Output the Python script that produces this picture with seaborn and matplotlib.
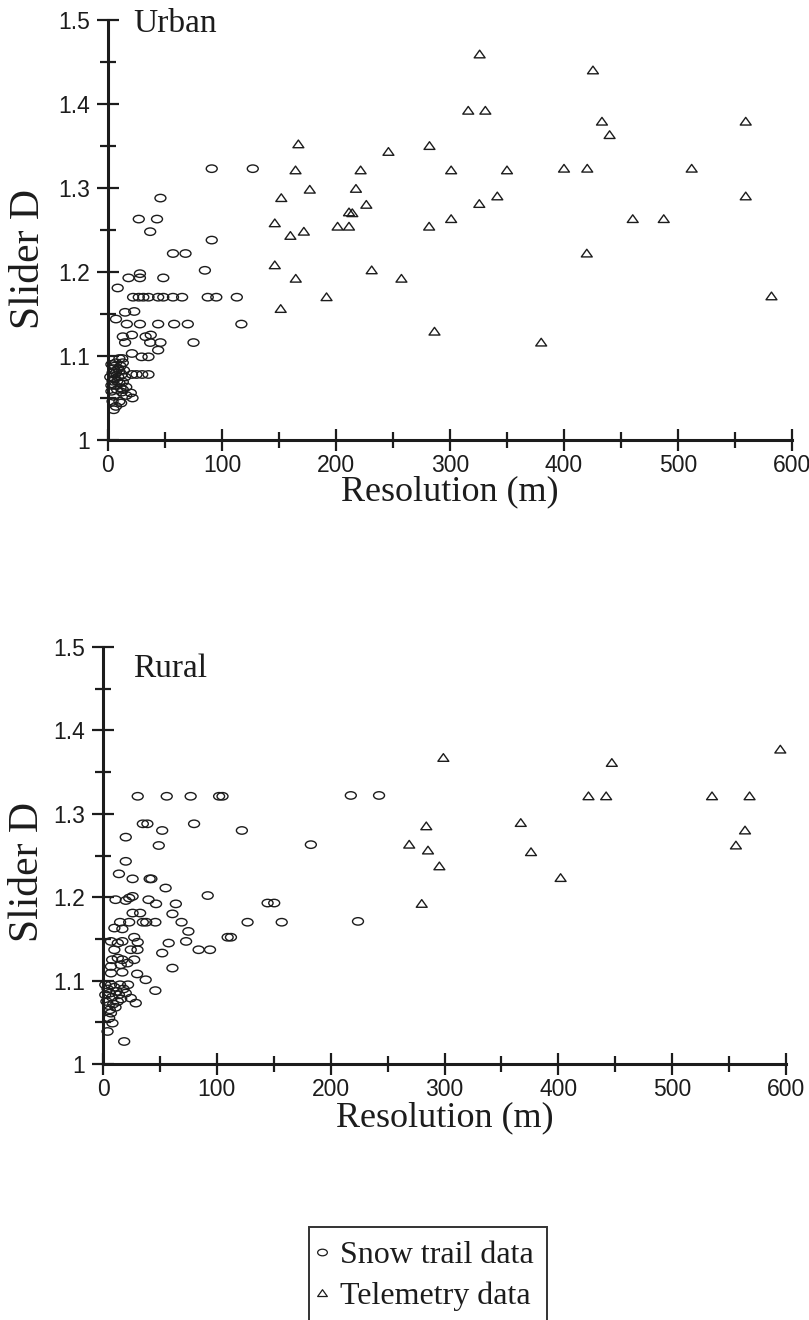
import numpy as np
import pandas as pd
import matplotlib
matplotlib.use("Agg")
import matplotlib.pyplot as plt
from matplotlib.path import Path
from matplotlib.lines import Line2D
from matplotlib.ticker import MultipleLocator, FuncFormatter
import seaborn as sns

# ---------------- data ----------------
urban_snow_x = [91, 127, 46, 27, 43, 37, 91, 57, 68, 85, 8.5, 18, 28, 28, 48.5,
                22, 27, 31, 35.5, 44, 48.5, 57, 65, 87.5, 95, 113,
                15, 23, 7,
                16.5, 28, 44, 58, 70, 117,
                13, 21, 33, 37.5,
                15, 37, 46, 75,
                44, 21, 29.5, 35.5, 10, 12.5,
                21, 25, 30, 35.5,
                21.5, 16, 11.5, 5, 4, 10, 7, 16, 13, 13, 20,
                3, 5, 7, 9, 4, 6, 8, 10, 12, 11, 14, 3, 5, 2, 7, 9, 6, 12, 4, 8,
                10, 13, 15, 3, 6, 11]
urban_snow_y = [1.323, 1.323, 1.288, 1.263, 1.263, 1.248, 1.238, 1.222, 1.222, 1.202, 1.181, 1.193, 1.193, 1.198, 1.193,
                1.170, 1.170, 1.170, 1.170, 1.170, 1.170, 1.170, 1.170, 1.170, 1.170, 1.170,
                1.152, 1.153, 1.144,
                1.138, 1.138, 1.138, 1.138, 1.138, 1.138,
                1.123, 1.125, 1.123, 1.125,
                1.116, 1.116, 1.116, 1.116,
                1.107, 1.103, 1.099, 1.099, 1.097, 1.097,
                1.078, 1.078, 1.078, 1.078,
                1.050, 1.053, 1.044, 1.036, 1.046, 1.046, 1.040, 1.063, 1.069, 1.060, 1.056,
                1.090, 1.085, 1.080, 1.075, 1.070, 1.065, 1.060, 1.068, 1.078, 1.088, 1.083, 1.058, 1.052, 1.075, 1.092, 1.085, 1.073, 1.057, 1.080, 1.070,
                1.082, 1.092, 1.075, 1.065, 1.088, 1.062]

urban_tele_x = [326, 316, 331, 167, 246, 282, 164.5, 221.6, 301, 350, 177, 217.5, 152, 226.6, 341.5,
                325.7, 211.4, 214.3, 146.3, 160, 171.8, 201.4, 211.4, 281.7, 301, 146.3, 164.7, 231.3,
                257.4, 191.7, 151.5, 286.4, 380, 425.4, 433.3, 440, 559.4, 400, 420.4, 512, 559.4,
                460.3, 487.5, 420, 582]
urban_tele_y = [1.459, 1.392, 1.392, 1.352, 1.343, 1.350, 1.321, 1.321, 1.321, 1.321, 1.298, 1.299, 1.288, 1.280, 1.290,
                1.281, 1.271, 1.270, 1.258, 1.243, 1.248, 1.254, 1.254, 1.254, 1.263, 1.208, 1.192, 1.202,
                1.192, 1.170, 1.156, 1.129, 1.116, 1.440, 1.379, 1.363, 1.379, 1.323, 1.323, 1.323, 1.290,
                1.263, 1.263, 1.222, 1.171]

rural_snow_x = [30.5, 56, 77, 102, 105, 217.7, 242.5,
                35, 39, 80, 52, 122, 20, 49, 182.6, 20, 14, 26, 41, 42.5, 55, 92, 11, 20, 23, 26, 40, 46.6, 64,
                144.6, 150.4, 26, 32.6, 61,
                15, 23, 35, 38, 46, 69, 127, 157, 224,
                10, 17, 75, 27.4, 109.5, 112.4, 30.5, 57.7, 73, 52, 84, 94, 10, 24.4, 30.3, 7, 13, 17,
                13, 8, 7, 17, 27.4, 15.6, 21.5, 7, 17, 30, 37.5, 61, 46, 24.4, 28.8, 7, 5.4, 8.3, 4, 18.6,
                2, 4, 6, 8, 10, 12, 14, 16, 3, 5, 9, 11, 13, 18, 20, 2, 7, 15, 22, 6]
rural_snow_y = [1.321, 1.321, 1.321, 1.321, 1.321, 1.322, 1.322,
                1.288, 1.288, 1.288, 1.280, 1.280, 1.272, 1.262, 1.263, 1.243, 1.228, 1.222, 1.222, 1.222, 1.211, 1.202, 1.197, 1.196, 1.199, 1.201, 1.197, 1.192, 1.192,
                1.193, 1.193, 1.181, 1.181, 1.180,
                1.170, 1.170, 1.170, 1.170, 1.170, 1.170, 1.170, 1.170, 1.171,
                1.163, 1.162, 1.159, 1.152, 1.152, 1.152, 1.146, 1.145, 1.147, 1.133, 1.137, 1.137, 1.137, 1.137, 1.137, 1.147, 1.145, 1.147,
                1.127, 1.125, 1.117, 1.125, 1.125, 1.119, 1.121, 1.109, 1.110, 1.108, 1.101, 1.115, 1.088, 1.079, 1.073, 1.061, 1.055, 1.049, 1.039, 1.027,
                1.095, 1.090, 1.085, 1.080, 1.092, 1.087, 1.083, 1.078, 1.075, 1.070, 1.072, 1.068, 1.075, 1.090, 1.085, 1.083, 1.095, 1.095, 1.095, 1.065]

rural_tele_x = [299, 284, 269, 285.5, 295.5, 280, 367, 376, 402, 426.5, 442, 447, 535, 556, 564, 568, 595]
rural_tele_y = [1.367, 1.285, 1.263, 1.256, 1.237, 1.192, 1.289, 1.254, 1.223, 1.321, 1.321, 1.361, 1.321, 1.262, 1.280, 1.321, 1.377]

series_labels = ["Snow trail data", "Telemetry data"]
panel_titles = ["Urban", "Rural"]
x_label = "Resolution (m)"
y_label = "Slider D"

# ---------------- style ----------------
sns.set_style("ticks")
SERIF = ["Liberation Serif", "DejaVu Serif"]
SANS = ["Liberation Sans", "DejaVu Sans"]
INK = "#1c1c1c"

circ = Path.unit_circle()
ellipse = Path(circ.vertices * np.array([1.0, 0.68]), circ.codes)
triangle = Path([(-1.0, -0.62), (1.0, -0.62), (0.0, 0.78), (-1.0, -0.62)],
                [Path.MOVETO, Path.LINETO, Path.LINETO, Path.CLOSEPOLY])
marker_map = {series_labels[0]: ellipse, series_labels[1]: triangle}


def make_df(sx, sy, tx, ty):
    return pd.DataFrame({
        "x": list(sx) + list(tx),
        "y": list(sy) + list(ty),
        "Data": [series_labels[0]] * len(sx) + [series_labels[1]] * len(tx),
    })


fig = plt.figure(figsize=(8.09, 13.2), dpi=100)
ax_top = fig.add_axes([108 / 809, 1 - 440 / 1320, 684 / 809, 420 / 1320])
ax_bot = fig.add_axes([103 / 809, 1 - 1064 / 1320, 683 / 809, 417 / 1320])

panels = [
    (ax_top, make_df(urban_snow_x, urban_snow_y, urban_tele_x, urban_tele_y), panel_titles[0],
     (0.037, 0.971), (-0.088, 0.43), -0.085),
    (ax_bot, make_df(rural_snow_x, rural_snow_y, rural_tele_x, rural_tele_y), panel_titles[1],
     (0.044, 0.928), (-0.082, 0.46), -0.089),
]

for ax, df, title, tpos, ylpos, xly in panels:
    sns.scatterplot(data=df, x="x", y="y", style="Data", markers=marker_map,
                    s=62, facecolor="none", edgecolor=INK, linewidth=1.0,
                    legend=False, ax=ax, clip_on=False, zorder=3)
    ax.set_xlim(0, 600)
    ax.set_ylim(1.0, 1.5)
    ax.xaxis.set_major_locator(MultipleLocator(100))
    ax.xaxis.set_minor_locator(MultipleLocator(50))
    ax.yaxis.set_major_locator(MultipleLocator(0.1))
    ax.yaxis.set_minor_locator(MultipleLocator(0.05))
    ax.yaxis.set_major_formatter(FuncFormatter(lambda v, _: f"{v:g}"))
    ax.xaxis.set_major_formatter(FuncFormatter(lambda v, _: f"{v:g}"))
    sns.despine(ax=ax)
    for sp in ("left", "bottom"):
        ax.spines[sp].set_linewidth(2.2)
        ax.spines[sp].set_color(INK)
        ax.spines[sp].set_zorder(2)
    ax.tick_params(which="major", direction="inout", length=16, width=1.6, color=INK,
                   labelsize=16.5, labelcolor=INK)
    ax.tick_params(which="minor", direction="inout", length=11, width=1.6, color=INK)
    ax.tick_params(axis="y", which="major", pad=5)
    ax.tick_params(axis="x", which="major", pad=2)
    for lab in ax.get_xticklabels() + ax.get_yticklabels():
        lab.set_family(SANS)
    ax.set_xlabel(x_label, family=SERIF, fontsize=26, color=INK)
    ax.set_ylabel(y_label, family=SERIF, fontsize=30, color=INK)
    ax.yaxis.set_label_coords(*ylpos)
    ax.xaxis.set_label_coords(0.5, xly)
    ax.text(tpos[0], tpos[1], title, transform=ax.transAxes, family=SERIF,
            fontsize=24, color=INK, ha="left", va="baseline")

handles = [
    Line2D([], [], marker=ellipse, linestyle="none", mfc="none", mec=INK, mew=0.9, markersize=7),
    Line2D([], [], marker=triangle, linestyle="none", mfc="none", mec=INK, mew=0.9, markersize=7),
]
leg = fig.legend(handles, series_labels, loc="upper left",
                 bbox_to_anchor=(309 / 809, 1 - 1227 / 1320), bbox_transform=fig.transFigure,
                 frameon=True, fancybox=False, shadow=False, edgecolor="black",
                 borderpad=0.42, handlelength=0, handletextpad=0.55, labelspacing=0.38,
                 borderaxespad=0, prop={"family": SERIF, "size": 23})
leg.get_frame().set_linewidth(1.4)
for t in leg.get_texts():
    t.set_color(INK)

fig.savefig("out.png", dpi=100, facecolor="white")
